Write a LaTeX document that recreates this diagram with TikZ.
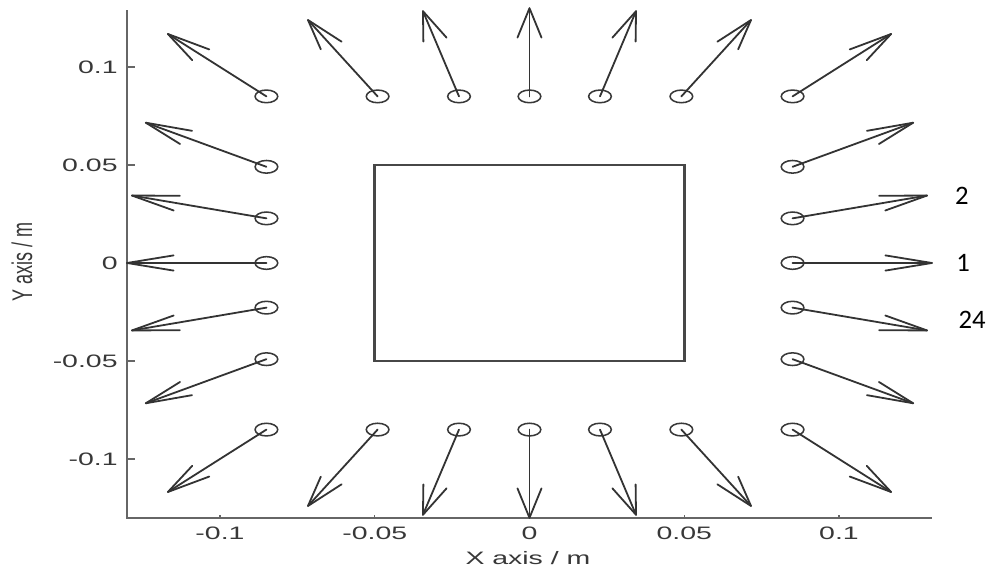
\documentclass[tikz,border=0pt]{standalone}
\usepackage{fontspec}
\setmainfont{Liberation Sans}
\newfontfamily\calibrifont{Carlito}
\usetikzlibrary{calc,shapes.geometric}
\newcommand\stretchx[1]{\scalebox{1.58}[1]{#1}}
\begin{document}
\begin{tikzpicture}[x=2.32125pt,y=1.47pt,
  axisline/.style={draw=black!60,line width=1.5pt},
  ticklbl/.style={text=black!78,font=\fontsize{13.5}{16}\selectfont,inner sep=0pt},
  sensor/.style={ellipse,draw=black!78,line width=1.15pt,minimum width=17pt,minimum height=9.5pt,inner sep=0pt},
  vec/.style={draw=black!80,line width=1.35pt,line cap=round,line join=round},
  body/.style={rectangle,draw=black!72,line width=2pt,minimum width=232.1pt,minimum height=147pt,inner sep=0pt},
  numlbl/.style={font=\calibrifont\fontsize{20}{24}\selectfont,inner sep=0pt}]
\useasboundingbox (-171.08,-156.63) rectangle (148.79,134.18);
\fill[white] (-171.08,-156.63) rectangle (148.79,134.18);
% axes
\coordinate (o) at (-130,-130);
\coordinate (ytop) at (-130,129);
\coordinate (xend) at (130,-130);
\draw[axisline] (ytop) -- (o) -- (xend);
\foreach \v/\t [count=\i] in {100/0.1,50/0.05,0/0,-50/-0.05,-100/-0.1}{
  \draw[axisline,line width=1.1pt] (-130,\v) -- (-127.4,\v);
  \node[ticklbl,anchor=east] (yl\i) at (-133,\v) {\stretchx{\t}};
  \draw[axisline,line width=1.1pt] (\v,-130) -- (\v,-128.5);
  \node[ticklbl] (xl\i) at (\v,-137.8) {\stretchx{\t}};
}
\node[ticklbl] (xlab) at (-0.5,-150.5) {\stretchx{X axis / m}};
\node[ticklbl] (ylab) at (-164,0.5) {\stretchx{\rotatebox{90}{Y axis / m}}};
% body
\node[body] (sq) at (0,0) {};
% sensors and field vectors
\foreach \k in {1,...,24}{
  \pgfmathsetmacro\th{(\k-1)*15}
  \pgfmathsetmacro\rr{85/max(abs(cos(\th)),abs(sin(\th)))}
  \node[sensor] (s\k) at (\th:\rr) {};
  \coordinate (t\k) at ($(s\k.center)+(\th:45)$);
  \draw[vec] (s\k.center) -- (t\k);
  \draw[vec] ($(t\k)+(\th+194.5:15.5)$) -- (t\k) -- ($(t\k)+(\th+165.5:15.5)$);
}
% numbering
\node[numlbl] (n2) at (139.7,34.2) {2};
\node[numlbl] (n1) at (140.1,0) {1};
\node[numlbl] (n24) at (143.0,-29.1) {24};
\end{tikzpicture}
\end{document}
